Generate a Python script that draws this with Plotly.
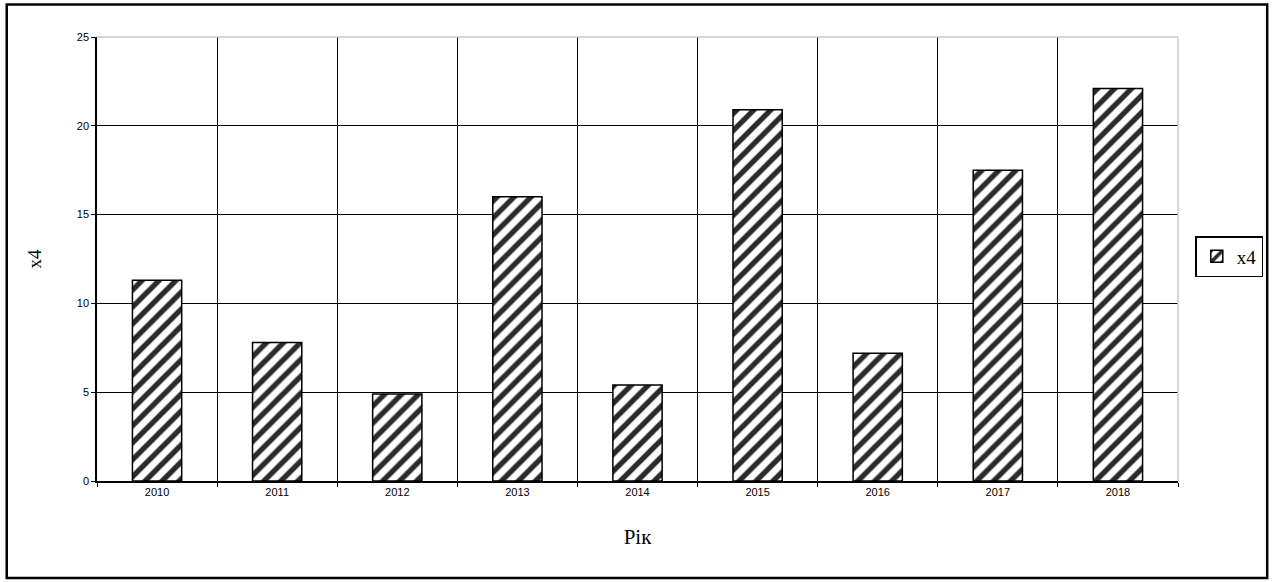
import plotly.graph_objects as go

years = ["2010", "2011", "2012", "2013", "2014", "2015", "2016", "2017", "2018"]
x4 = [11.3, 7.8, 4.9, 16.0, 5.4, 20.9, 7.2, 17.5, 22.1]
y_ticks = [0, 5, 10, 15, 20, 25]

fig = go.Figure()
fig.add_trace(go.Bar(
    x=years, y=x4, name="x4",
    marker=dict(
        color="#2b2b2b",
        line=dict(color="black", width=1.5),
        pattern=dict(shape="/", fgcolor="#2b2b2b", bgcolor="white", fgopacity=1,
                     fillmode="replace", size=12, solidity=0.45),
    ),
))

fig.update_layout(
    width=1275, height=582,
    margin=dict(l=97, r=95, t=37, b=101),
    paper_bgcolor="white", plot_bgcolor="white",
    bargap=0.59,
    showlegend=True,
    legend=dict(
        x=1.016, y=0.5056, xanchor="left", yanchor="middle",
        bordercolor="black", borderwidth=1.5,
        font=dict(family="Liberation Serif, Times New Roman, serif", size=19, color="black"),
        itemwidth=30,
    ),
    xaxis=dict(
        type="category", tickson="boundaries",
        showgrid=True, gridcolor="black", gridwidth=1.2,
        showline=True, linecolor="black", linewidth=1.5,
        ticks="outside", ticklen=4, tickcolor="black",
        tickfont=dict(family="Liberation Sans, Arial, sans-serif", size=11, color="black"),
        title=dict(text="Рік", standoff=32,
                   font=dict(family="Liberation Serif, Times New Roman, serif", size=21, color="black")),
        automargin=False,
    ),
    yaxis=dict(
        range=[0, 25], tickvals=y_ticks,
        showgrid=True, gridcolor="black", gridwidth=1.2,
        zeroline=False,
        showline=True, linecolor="black", linewidth=1.5,
        ticks="outside", ticklen=4, tickcolor="black",
        tickfont=dict(family="Liberation Sans, Arial, sans-serif", size=11, color="black"),
        title=dict(text="x4", standoff=30,
                   font=dict(family="Liberation Serif, Times New Roman, serif", size=19, color="black")),
        automargin=False,
    ),
    shapes=[
        dict(type="line", xref="paper", yref="paper", x0=0, x1=1, y0=1, y1=1,
             line=dict(color="#c8c8c8", width=1.5), layer="above"),
        dict(type="line", xref="paper", yref="paper", x0=1, x1=1, y0=0, y1=1,
             line=dict(color="#c8c8c8", width=1.5), layer="above"),
        dict(type="rect", xref="paper", yref="paper", x0=-0.0835, x1=1.0825, y0=-0.2185, y1=1.073,
             line=dict(color="black", width=2.5), fillcolor="rgba(0,0,0,0)", layer="above"),
    ],
)

fig.write_html("out.html", config={"displayModeBar": False},
               post_script="document.body.style.margin='0';document.body.style.overflow='hidden';")
